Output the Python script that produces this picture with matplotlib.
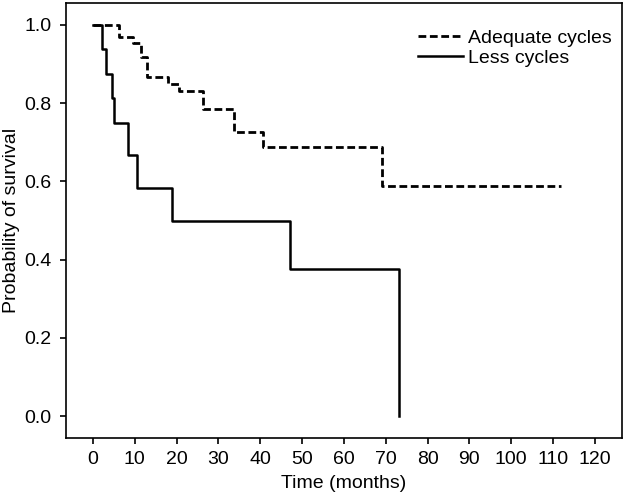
import matplotlib
matplotlib.use("Agg")
import matplotlib.pyplot as plt

# Kaplan-Meier step data
adequate_time = [0, 6.3, 9.6, 11.6, 13.0, 18.0, 20.5, 26.4, 33.7, 40.7, 69.2, 112]
adequate_surv = [1.0, 0.969, 0.953, 0.919, 0.868, 0.850, 0.832, 0.785, 0.727, 0.687, 0.589, 0.589]

less_time = [0, 2.1, 3.1, 4.5, 5.0, 8.5, 10.6, 18.8, 47.1, 73.2]
less_surv = [1.0, 0.9375, 0.875, 0.8125, 0.75, 0.667, 0.583, 0.5, 0.375, 0.0]

x_ticks = list(range(0, 121, 10))
y_ticks = [0.0, 0.2, 0.4, 0.6, 0.8, 1.0]

plt.rcParams['font.family'] = ['Liberation Sans', 'DejaVu Sans']

fig = plt.figure(figsize=(6.28, 4.95), dpi=100)
W, H = 628, 495
left, right, top, bottom = 65.7, 622, 3, 438
ax = fig.add_axes([left / W, 1 - bottom / H, (right - left) / W, (bottom - top) / H])

ax.step(adequate_time, adequate_surv, where='post', color='black', lw=2.0,
        dashes=(2.8, 1.3), label='Adequate cycles')
ax.step(less_time, less_surv, where='post', color='black', lw=1.8,
        label='Less cycles')

ax.set_xlim(-6.5, 126.5)
ax.set_ylim(-0.056, 1.056)
ax.set_xticks(x_ticks)
ax.set_yticks(y_ticks)
ax.set_yticklabels(["{:.1f}".format(v) for v in y_ticks])
ax.tick_params(direction='out', length=4.3, width=1.2, labelsize=14, pad=5)
ax.tick_params(axis='y', pad=6)
for s in ax.spines.values():
    s.set_linewidth(1.2)

ax.set_xlabel('Time (months)', fontsize=14, labelpad=5)
ax.set_ylabel('Probability of survival', fontsize=14, labelpad=3)

ax.legend(loc='upper left', bbox_to_anchor=(0.633, 0.94), frameon=False,
          fontsize=14, handlelength=2.3, handletextpad=0.3, labelspacing=0.13,
          borderpad=0, borderaxespad=0)

plt.savefig('out.png', dpi=100)
